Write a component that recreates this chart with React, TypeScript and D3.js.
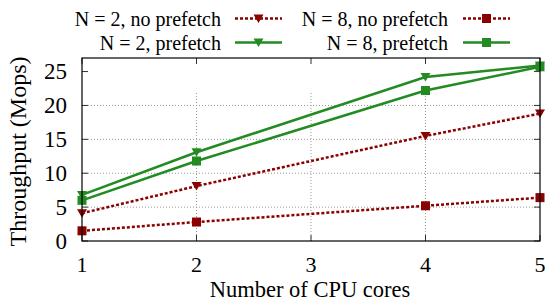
import React from "react";
import * as d3 from "d3";

const cores = [1, 2, 4, 5];
const n2NoPrefetch = [4.1, 8.1, 15.5, 18.8];
const n8NoPrefetch = [1.5, 2.8, 5.2, 6.4];
const n2Prefetch = [6.8, 13.1, 24.2, 25.9];
const n8Prefetch = [6.0, 11.8, 22.2, 25.7];
const xTicks = [1, 2, 3, 4, 5];
const yTicks = [0, 5, 10, 15, 20, 25];
const yGrid = [5, 10, 15, 20];
const xGrid = [2, 3, 4];

const RED = "#8b0000";
const GREEN = "#228b22";
const FONT = '"Liberation Serif", "Times New Roman", serif';

type Series = { name: string; values: number[]; color: string; dashed: boolean; marker: "tri" | "sq" };
const series: Series[] = [
  { name: "N = 2, no prefetch", values: n2NoPrefetch, color: RED, dashed: true, marker: "tri" },
  { name: "N = 8, no prefetch", values: n8NoPrefetch, color: RED, dashed: true, marker: "sq" },
  { name: "N = 2, prefetch", values: n2Prefetch, color: GREEN, dashed: false, marker: "tri" },
  { name: "N = 8, prefetch", values: n8Prefetch, color: GREEN, dashed: false, marker: "sq" },
];

function Marker({ x, y, kind, color }: { x: number; y: number; kind: "tri" | "sq"; color: string }) {
  if (kind === "tri") {
    const s = 5;
    return <path d={`M${x - s},${y - s * 0.8} L${x + s},${y - s * 0.8} L${x},${y + s * 0.9} Z`} fill={color} />;
  }
  const h = 4.5;
  return <rect x={x - h} y={y - h} width={2 * h} height={2 * h} fill={color} />;
}

const ts = { fontFamily: FONT };

export default function App() {
  const W = 549, H = 301;
  const left = 82, right = 540, top = 58, bottom = 241;
  const x = d3.scaleLinear().domain([1, 5]).range([left, right]);
  const y = d3.scaleLinear().domain([0, 27]).range([bottom, top]);
  const line = d3.line<[number, number]>().x(d => x(d[0])).y(d => y(d[1]));
  const gridTop = y(22);

  const legendRows = [
    [series[0], series[1]],
    [series[2], series[3]],
  ];
  const colTextRight = [221, 448];
  const colLine = [[235, 282], [463, 510]];
  const rowY = [18.5, 42.5];

  return (
    <svg width={W} height={H} style={{ position: "absolute", left: 0, top: 0 }}>
      <rect width={W} height={H} fill="white" />
      {/* grid */}
      {yGrid.map(v => (
        <line key={"gy" + v} x1={left} x2={right} y1={y(v)} y2={y(v)} stroke="#999" strokeWidth={1} strokeDasharray="1,2" />
      ))}
      {xGrid.map(v => (
        <line key={"gx" + v} x1={x(v)} x2={x(v)} y1={bottom} y2={gridTop} stroke="#999" strokeWidth={1} strokeDasharray="1,2" />
      ))}
      {/* ticks */}
      {yTicks.map(v => (
        <g key={"ty" + v}>
          <line x1={left} x2={left + 6} y1={y(v)} y2={y(v)} stroke="#333" />
          <line x1={right} x2={right - 6} y1={y(v)} y2={y(v)} stroke="#333" />
          <text x={67} y={y(v)} dy="0.33em" textAnchor="end" fontSize={23} style={ts}>{v}</text>
        </g>
      ))}
      {xTicks.map(v => (
        <g key={"tx" + v}>
          <line x1={x(v)} x2={x(v)} y1={bottom} y2={bottom - 6} stroke="#333" />
          <line x1={x(v)} x2={x(v)} y1={top} y2={top + 6} stroke="#333" />
          <text x={x(v)} y={272} textAnchor="middle" fontSize={22} style={ts}>{v}</text>
        </g>
      ))}
      {/* series */}
      {series.map(s => {
        const pts = cores.map((c, i) => [c, s.values[i]] as [number, number]);
        return (
          <g key={s.name}>
            <path d={line(pts) || ""} fill="none" stroke={s.color} strokeWidth={2.5} strokeDasharray={s.dashed ? "3,2" : undefined} />
            {pts.map((p, i) => (
              <Marker key={i} x={x(p[0])} y={y(p[1])} kind={s.marker} color={s.color} />
            ))}
          </g>
        );
      })}
      {/* frame */}
      <rect x={left} y={top} width={right - left} height={bottom - top} fill="none" stroke="black" strokeWidth={1.2} />
      {/* axis labels */}
      <text x={310} y={297} textAnchor="middle" fontSize={22.5} style={ts}>Number of CPU cores</text>
      <text transform={`translate(26,151.5) rotate(-90)`} textAnchor="middle" fontSize={24} style={ts}>Throughput (Mops)</text>
      {/* legend */}
      {legendRows.map((row, r) =>
        row.map((s, c) => (
          <g key={s.name}>
            <text x={colTextRight[c]} y={rowY[r] + 7} textAnchor="end" fontSize={20} style={ts}>{s.name}</text>
            <line x1={colLine[c][0]} x2={colLine[c][1]} y1={rowY[r]} y2={rowY[r]} stroke={s.color} strokeWidth={2.5} strokeDasharray={s.dashed ? "3,2" : undefined} />
            <Marker x={(colLine[c][0] + colLine[c][1]) / 2} y={rowY[r]} kind={s.marker} color={s.color} />
          </g>
        ))
      )}
    </svg>
  );
}
